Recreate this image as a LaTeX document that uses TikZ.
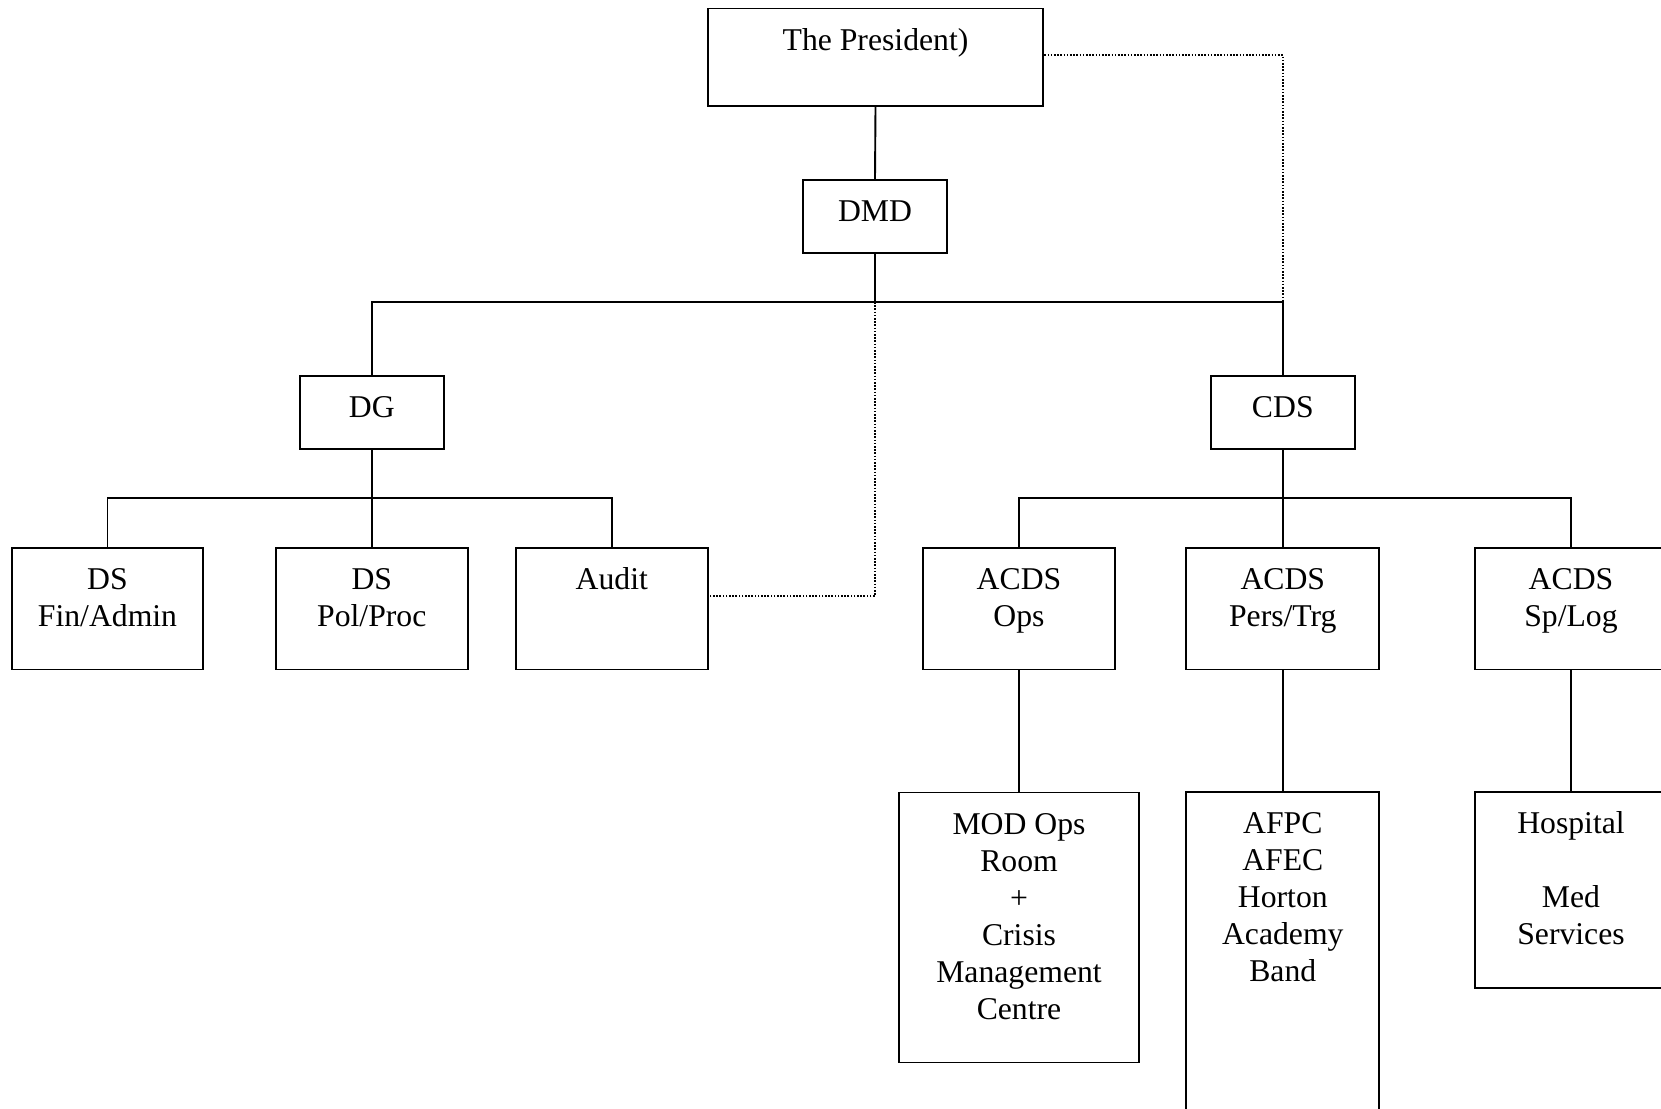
\documentclass[tikz,border=0pt]{standalone}
\usepackage{fontspec}
\setmainfont{Liberation Serif}
\usetikzlibrary{calc}

% box body: fixed width and height, text set from the top, centred
\newcommand{\orgtext}[3]{%
  \begin{minipage}[t][#2][t]{#1}\centering
  \vspace*{7.8pt}\strut #3\end{minipage}}

\tikzset{
  orgbox/.style={draw, line width=0.95pt, inner sep=0pt, fill=white,
    font=\fontsize{15.85pt}{18.5pt}\selectfont},
  link/.style={line width=0.95pt},
  dotlink/.style={line width=0.8pt, dash pattern=on 0.8pt off 0.8pt}
}

\begin{document}
\begin{tikzpicture}[x=0.5pt,y=-0.5pt]
\useasboundingbox (0,0) rectangle (1661,1109);
\fill[white] (0,0) rectangle (1661,1109);
\clip (0,0) rectangle (1661,1109);

% top of the chain
\node[orgbox] (pres) at (875.5,57.2) {\orgtext{167.9pt}{48.7pt}{The President)}};
\node[orgbox] (dmd) at (875,216.5) {\orgtext{72pt}{36.5pt}{DMD}};

% second level
\node[orgbox] (dg) at (371.8,412.5) {\orgtext{72pt}{36.5pt}{DG}};
\node[orgbox] (cds) at (1282.8,412.5) {\orgtext{72pt}{36.5pt}{CDS}};

% third level
\node[orgbox] (dsfin) at (107.5,608.6) {\orgtext{95.9pt}{60.9pt}{DS\\Fin/Admin}};
\node[orgbox] (dspol) at (371.8,608.6) {\orgtext{95.9pt}{60.9pt}{DS\\Pol/Proc}};
\node[orgbox] (audit) at (611.8,608.6) {\orgtext{95.9pt}{60.9pt}{Audit}};
\node[orgbox] (ops) at (1019,608.6) {\orgtext{96.4pt}{60.9pt}{ACDS\\Ops}};
\node[orgbox] (pers) at (1282.8,608.6) {\orgtext{96.4pt}{60.9pt}{ACDS\\Pers/Trg}};
\node[orgbox] (splog) at (1571,608.6) {\orgtext{96.4pt}{60.9pt}{ACDS\\Sp/Log}};

% fourth level
\node[orgbox] (mod) at (1019,927.5) {\orgtext{119.7pt}{135pt}{MOD Ops\\Room\\+\\Crisis\\Management\\Centre}};
\node[orgbox] (afpc) at (1282.8,961) {\orgtext{96.4pt}{168.8pt}{AFPC\\AFEC\\Horton\\Academy\\Band}};
\node[orgbox] (hosp) at (1571,890.4) {\orgtext{96.4pt}{98pt}{Hospital\\\strut\\Med\\Services}};

% junctions
\coordinate (j1) at (875,302);
\coordinate (j2) at (371.8,497.9);
\coordinate (j3) at (1282.8,497.9);

% solid reporting lines
\draw[link] (pres.south) -- (dmd.north);
\draw[link] (dmd.south) -- (j1);
\draw[link] (dg.north) |- (j1) -| (cds.north);
\draw[link] (dg.south) -- (dspol.north);
\draw[link] (dsfin.north) |- (j2) -| (audit.north);
\draw[link] (cds.south) -- (pers.north);
\draw[link] (ops.north) |- (j3) -| (splog.north);
\draw[link] (ops.south) -- (mod.north);
\draw[link] (pers.south) -- (afpc.north);
\draw[link] (splog.south) -- (hosp.north);

% dotted lines
\draw[dotlink] ([yshift=1.1pt]pres.east) -| (j1 -| cds.north);
\draw[dotlink] (j1) |- ([yshift=6.3pt]audit.east);
\end{tikzpicture}
\end{document}
